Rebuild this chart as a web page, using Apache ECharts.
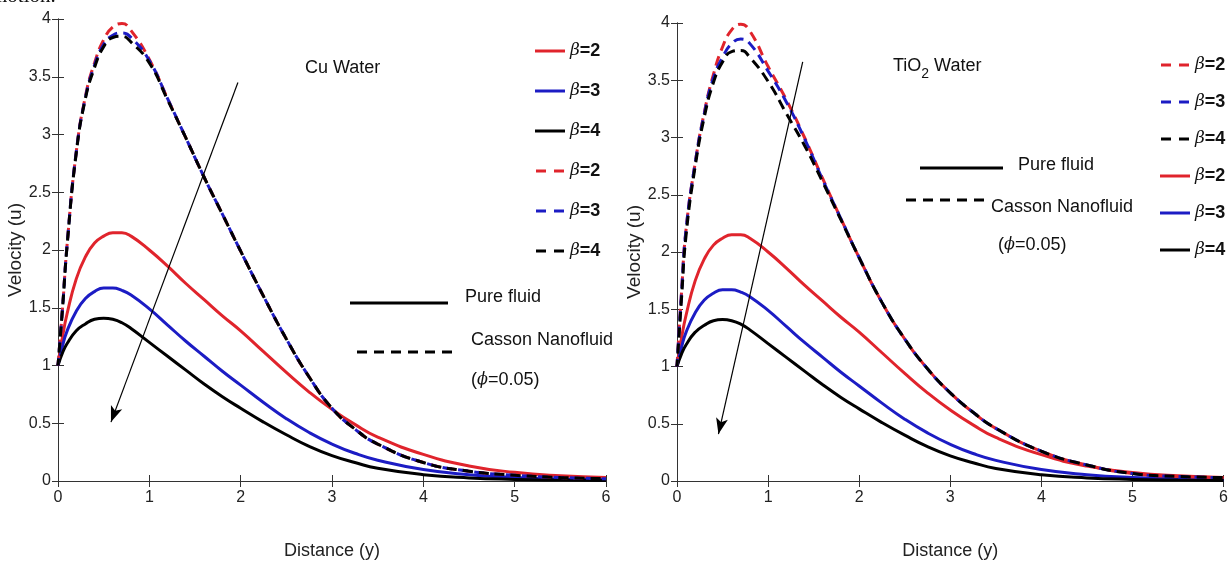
<!DOCTYPE html>
<html>
<head>
<meta charset="utf-8">
<script src="https://cdn.jsdelivr.net/npm/echarts@6/dist/echarts.min.js"></script>
<style>
  html, body { margin: 0; padding: 0; background: #fff; }
  #main { width: 1231px; height: 565px; }
</style>
</head>
<body>
<div id="main"></div>
<script>
var myChart = echarts.init(document.getElementById('main'));

// distance y
var xs = [0, 0.05, 0.1, 0.2, 0.3, 0.4, 0.5, 0.6, 0.7, 0.8, 1.0, 1.2, 1.4, 1.6, 1.8, 2.0, 2.25, 2.5, 2.75, 3.0, 3.25, 3.5, 4.0, 4.5, 5.0, 5.5, 6.0];

// pure fluid (same in both panels)
var pureB2 = [1, 1.25, 1.45, 1.75, 1.94, 2.06, 2.12, 2.15, 2.15, 2.12, 2.00, 1.86, 1.71, 1.57, 1.43, 1.30, 1.12, 0.94, 0.77, 0.62, 0.49, 0.38, 0.23, 0.13, 0.075, 0.045, 0.03];
var pureB3 = [1, 1.17, 1.30, 1.47, 1.58, 1.64, 1.67, 1.67, 1.65, 1.61, 1.49, 1.35, 1.21, 1.08, 0.95, 0.83, 0.68, 0.54, 0.42, 0.32, 0.24, 0.18, 0.10, 0.055, 0.03, 0.018, 0.01];
var pureB4 = [1, 1.11, 1.19, 1.30, 1.36, 1.40, 1.41, 1.40, 1.37, 1.32, 1.20, 1.08, 0.96, 0.84, 0.73, 0.63, 0.51, 0.40, 0.30, 0.22, 0.16, 0.11, 0.055, 0.027, 0.014, 0.008, 0.005];

// Casson nanofluid, Cu water
var cuB2 = [1, 1.5, 2.05, 2.85, 3.33, 3.62, 3.82, 3.93, 3.96, 3.90, 3.65, 3.31, 2.97, 2.63, 2.31, 1.99, 1.60, 1.23, 0.90, 0.63, 0.45, 0.32, 0.16, 0.085, 0.05, 0.03, 0.02];
var cuB3 = [1, 1.5, 2.05, 2.85, 3.32, 3.60, 3.78, 3.86, 3.88, 3.84, 3.64, 3.31, 2.97, 2.63, 2.31, 1.99, 1.60, 1.23, 0.90, 0.63, 0.45, 0.32, 0.16, 0.085, 0.05, 0.03, 0.02];
var cuB4 = [1, 1.5, 2.04, 2.84, 3.31, 3.58, 3.76, 3.84, 3.85, 3.80, 3.62, 3.30, 2.97, 2.63, 2.31, 1.99, 1.60, 1.23, 0.90, 0.63, 0.45, 0.32, 0.16, 0.085, 0.05, 0.03, 0.02];

// Casson nanofluid, TiO2 water
var tiB2 = [1, 1.65, 2.2, 2.78, 3.22, 3.55, 3.79, 3.94, 3.99, 3.93, 3.62, 3.33, 3.00, 2.64, 2.29, 1.95, 1.56, 1.24, 0.98, 0.77, 0.60, 0.46, 0.26, 0.14, 0.065, 0.04, 0.03];
var tiB3 = [1, 1.65, 2.2, 2.78, 3.21, 3.52, 3.70, 3.82, 3.86, 3.82, 3.58, 3.31, 2.99, 2.63, 2.29, 1.95, 1.56, 1.24, 0.98, 0.77, 0.60, 0.46, 0.26, 0.14, 0.065, 0.04, 0.03];
var tiB4 = [1, 1.6, 2.15, 2.75, 3.18, 3.48, 3.66, 3.75, 3.76, 3.70, 3.49, 3.21, 2.93, 2.61, 2.28, 1.95, 1.56, 1.24, 0.98, 0.77, 0.60, 0.46, 0.26, 0.14, 0.065, 0.04, 0.03];

// arrows (from, to) in data units
var arrowCu = [[1.97, 3.45], [0.58, 0.51]];
var arrowTi = [[1.38, 3.66], [0.455, 0.41]];

var RED = '#e0242c', BLUE = '#1c1cc4', BLACK = '#000000';
var SANS = "'Liberation Sans', Arial, sans-serif";
var SOLID_ICON = 'path://M0,0h30v3h-30z';
var DASH_ICON = 'path://M0,0h10v3h-10z M18,0h10v3h-10z';

function pairs(ys) {
    return xs.map(function (x, i) { return [x, ys[i]]; });
}

function curve(name, ys, color, dashed, gi, offset) {
    return {
        name: name,
        type: 'line',
        xAxisIndex: gi * 2,
        yAxisIndex: gi * 2,
        data: pairs(ys),
        smooth: 0.5,
        symbol: 'none',
        silent: true,
        lineStyle: {
            color: color, width: 3,
            type: dashed ? [10, 6] : 'solid',
            dashOffset: offset || 0
        },
        itemStyle: { color: color },
        z: dashed ? 3 : 2
    };
}

function arrow(a, gi) {
    return {
        type: 'line',
        xAxisIndex: gi * 2,
        yAxisIndex: gi * 2,
        data: [],
        silent: true,
        markLine: {
            silent: true,
            symbol: ['none', 'arrow'],
            symbolSize: [9, 16],
            label: { show: false },
            lineStyle: { color: '#000', width: 1.2, type: 'solid' },
            data: [[{ coord: a[0] }, { coord: a[1] }]]
        }
    };
}

function mainX(gi) {
    return {
        gridIndex: gi, type: 'value', min: 0, max: 6, interval: 1,
        name: 'Distance (y)', nameLocation: 'middle', nameGap: 61,
        nameTextStyle: { fontFamily: SANS, fontSize: 18, color: '#222' },
        axisLine: { show: true, lineStyle: { color: '#333', width: 1 } },
        axisTick: { show: true, inside: true, length: 6, lineStyle: { color: '#333' } },
        axisLabel: { fontFamily: SANS, fontSize: 16, color: '#222', margin: 9 },
        splitLine: { show: false }
    };
}
function frameX(gi) {
    return {
        gridIndex: gi, type: 'value', min: 0, max: 6, interval: 1, position: 'top',
        axisLine: { show: true, lineStyle: { color: '#333', width: 1 } },
        axisTick: { show: true, inside: true, length: 6, lineStyle: { color: '#333' } },
        axisLabel: { show: false }, splitLine: { show: false }
    };
}
function mainY(gi) {
    return {
        gridIndex: gi, type: 'value', min: 0, max: 4, interval: 0.5,
        name: 'Velocity (u)', nameLocation: 'middle', nameGap: 31,
        nameTextStyle: { fontFamily: SANS, fontSize: 19, color: '#222' },
        axisLine: { show: true, lineStyle: { color: '#333', width: 1 } },
        axisTick: { show: true, inside: true, length: 6, lineStyle: { color: '#333' } },
        axisLabel: { fontFamily: SANS, fontSize: 16, color: '#222', margin: 7 },
        splitLine: { show: false }
    };
}
function frameY(gi) {
    return {
        gridIndex: gi, type: 'value', min: 0, max: 4, interval: 0.5, position: 'right',
        axisLine: { show: true, lineStyle: { color: '#333', width: 1 } },
        axisTick: { show: true, inside: true, length: 6, lineStyle: { color: '#333' } },
        axisLabel: { show: false }, splitLine: { show: false }
    };
}

var legendText = {
    formatter: function (name) { return '{g|β}{t|=' + name.slice(-1) + '}'; },
    textStyle: {
        rich: {
            g: { fontFamily: "'DejaVu Serif', serif", fontStyle: 'italic', fontSize: 17, lineHeight: 20, color: '#111' },
            t: { fontFamily: SANS, fontWeight: 'bold', fontSize: 18, lineHeight: 20, color: '#111' }
        }
    }
};

function legendItems(names) {
    return names.map(function (n) {
        return { name: n, icon: n.indexOf('nano') >= 0 ? DASH_ICON : SOLID_ICON };
    });
}

function keyLine(x1, x2, y, dashed) {
    return {
        type: 'line', silent: true,
        shape: { x1: x1, y1: y, x2: x2, y2: y },
        style: { stroke: '#000', lineWidth: 3, lineDash: dashed ? [10, 7] : null }
    };
}
function keyText(x, y, text) {
    return {
        type: 'text', silent: true, x: x, y: y,
        style: {
            text: text, fontFamily: SANS, fontSize: 18, fill: '#111', verticalAlign: 'middle',
            rich: {
                f: { fontFamily: "'DejaVu Serif', serif", fontStyle: 'italic', fontSize: 16, fill: '#111' },
                n: { fontFamily: SANS, fontSize: 18, fill: '#111' }
            }
        }
    };
}

option = {
    backgroundColor: '#fff',
    animation: false,
    grid: [
        { left: 58, top: 19, width: 548, height: 463 },
        { left: 677, top: 23, width: 554, height: 466 }
    ],
    xAxis: [mainX(0), frameX(0), mainX(1), frameX(1)],
    yAxis: [mainY(0), frameY(0), mainY(1), frameY(1)],
    legend: [
        Object.assign({
            orient: 'vertical', left: 530, top: 37, itemWidth: 30, itemHeight: 3, itemGap: 22,
            selectedMode: false,
            data: legendItems(['cu-pure-2', 'cu-pure-3', 'cu-pure-4', 'cu-nano-2', 'cu-nano-3', 'cu-nano-4'])
        }, legendText),
        Object.assign({
            orient: 'vertical', left: 1155, top: 51, itemWidth: 30, itemHeight: 3, itemGap: 19,
            selectedMode: false,
            data: legendItems(['ti-nano-2', 'ti-nano-3', 'ti-nano-4', 'ti-pure-2', 'ti-pure-3', 'ti-pure-4'])
        }, legendText)
    ],
    graphic: [
        { type: 'text', silent: true, x: -9, y: -14,
          style: { text: 'motion.', fontFamily: "'Liberation Serif', serif", fontSize: 21, fill: '#111' } },
        { type: 'text', silent: true, x: 305, y: 68,
          style: { text: 'Cu Water', fontFamily: SANS, fontSize: 18, fill: '#111', verticalAlign: 'middle' } },
        { type: 'text', silent: true, x: 893, y: 66,
          style: { text: 'TiO{s|2} Water', fontFamily: SANS, fontSize: 18, fill: '#111', verticalAlign: 'middle',
                   rich: { s: { fontFamily: SANS, fontSize: 14, fill: '#111', padding: [16, 0, 0, 0] } } } },
        keyLine(350, 448, 303, false),
        keyText(465, 297, 'Pure fluid'),
        keyLine(357, 455, 352, true),
        keyText(471, 340, 'Casson Nanofluid'),
        keyText(471, 380, '{n|(}{f|ϕ}{n|=0.05)}'),
        keyLine(920, 1003, 168, false),
        keyText(1018, 165, 'Pure fluid'),
        keyLine(906, 985, 200, true),
        keyText(991, 207, 'Casson Nanofluid'),
        keyText(998, 245, '{n|(}{f|ϕ}{n|=0.05)}')
    ],
    series: [
        curve('cu-pure-2', pureB2, RED, false, 0),
        curve('cu-pure-3', pureB3, BLUE, false, 0),
        curve('cu-pure-4', pureB4, BLACK, false, 0),
        curve('cu-nano-2', cuB2, RED, true, 0, 0),
        curve('cu-nano-3', cuB3, BLUE, true, 0, 2),
        curve('cu-nano-4', cuB4, BLACK, true, 0, 3),
        arrow(arrowCu, 0),
        curve('ti-pure-2', pureB2, RED, false, 1),
        curve('ti-pure-3', pureB3, BLUE, false, 1),
        curve('ti-pure-4', pureB4, BLACK, false, 1),
        curve('ti-nano-2', tiB2, RED, true, 1, 0),
        curve('ti-nano-3', tiB3, BLUE, true, 1, 2),
        curve('ti-nano-4', tiB4, BLACK, true, 1, 3),
        arrow(arrowTi, 1)
    ]
};
myChart.setOption(option);
</script>
</body>
</html>
